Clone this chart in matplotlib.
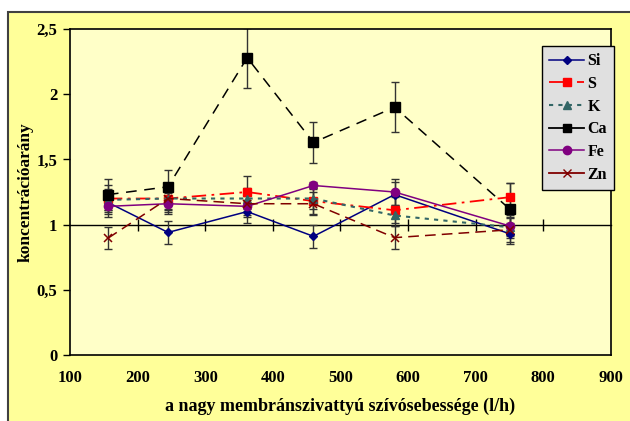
import matplotlib
matplotlib.use("Agg")
import matplotlib.pyplot as plt
from matplotlib.lines import Line2D
from matplotlib.patches import Rectangle
from matplotlib.ticker import FuncFormatter

# ==== adatok ====
flow = [156, 245, 362, 460, 580, 750]

si = [1.17, 0.94, 1.10, 0.91, 1.23, 0.93]
s = [1.20, 1.20, 1.25, 1.18, 1.11, 1.21]
k = [1.19, 1.20, 1.20, 1.20, 1.07, 0.98]
ca = [1.23, 1.29, 2.28, 1.63, 1.90, 1.12]
fe = [1.14, 1.16, 1.14, 1.30, 1.25, 0.99]
zn = [0.895, 1.20, 1.16, 1.16, 0.90, 0.96]

si_err = [0.09, 0.09, 0.09, 0.09, 0.10, 0.08]
s_err = [0.10, 0.10, 0.12, 0.10, 0.10, 0.11]
k_err = [0.08, 0.08, 0.08, 0.08, 0.08, 0.08]
ca_err = [0.12, 0.13, 0.23, 0.16, 0.19, 0.20]
fe_err = [0.08, 0.08, 0.08, 0.03, 0.10, 0.08]
zn_err = [0.085, 0.09, 0.09, 0.09, 0.09, 0.09]

names = ["Si", "S", "K", "Ca", "Fe", "Zn"]

plt.rcParams["font.family"] = ["Liberation Serif", "DejaVu Serif"]
plt.rcParams["font.weight"] = "bold"

fig = plt.figure(figsize=(6.3, 4.21), dpi=100)
fig.patch.set_facecolor("white")

# sárga keret a diagram körül
frame = Rectangle((8 / 630, -0.01), 1.0, 1 - 12 / 421 + 0.01, transform=fig.transFigure,
                  facecolor="#FFFF99", edgecolor="#404040", linewidth=1.5, zorder=-10)
fig.patches.append(frame)

ax = fig.add_axes([70 / 630, 66 / 421, 541 / 630, 326 / 421])
ax.set_facecolor("#FFFFC8")

styles = [
    (si, si_err, dict(color="#000080", ls="-", marker="D", ms=4.5, lw=1.1)),
    (s, s_err, dict(color="#FF0000", ls=(0, (8, 3, 1.5, 3)), marker="s", ms=6, lw=1.3)),
    (k, k_err, dict(color="#336666", ls=(0, (2, 2.5)), marker="^", ms=6, lw=1.5)),
    (ca, ca_err, dict(color="black", ls=(0, (7, 5)), marker="s", ms=6.5, lw=1.1)),
    (fe, fe_err, dict(color="#800080", ls="-", marker="o", ms=6, lw=1.1)),
    (zn, zn_err, dict(color="#800000", ls=(0, (7, 4)), marker="x", ms=6, lw=1.1, mew=1.1)),
]

for vals, errs, st in styles:
    ax.errorbar(flow, vals, yerr=errs, fmt="none", ecolor="#333333", elinewidth=1.0,
                capsize=3, capthick=1.0, zorder=2)
    ax.plot(flow, vals, zorder=3, **st)

ax.set_xlim(100, 900)
ax.set_ylim(0, 2.5)
ax.set_xticks(range(100, 1000, 100))
ax.set_yticks([0, 0.5, 1, 1.5, 2, 2.5])
ax.yaxis.set_major_formatter(FuncFormatter(lambda v, p: f"{v:g}".replace(".", ",")))
ax.tick_params(axis="x", length=0, labelsize=12, pad=11)
ax.tick_params(axis="y", direction="out", length=5, width=1, labelsize=12, pad=4)
for sp in ax.spines.values():
    sp.set_linewidth(1.2)
    sp.set_color("black")

# vízszintes tengely az 1-es értéknél
sec = ax.secondary_xaxis(1 / 2.5)
sec.set_xticks(range(200, 900, 100))
sec.tick_params(direction="inout", length=9, width=1, labelbottom=False, labeltop=False)
sec.spines["bottom"].set_linewidth(1.0)
sec.spines["top"].set_linewidth(1.0)

ax.set_xlabel("a nagy membránszivattyú szívósebessége (l/h)", fontsize=13,
              fontweight="bold", labelpad=8)
ax.set_ylabel("koncentrációarány", fontsize=12.5, fontweight="bold", labelpad=2)

handles = [
    Line2D([], [], color="#000080", ls="-", marker="D", ms=4.5, lw=1.1),
    Line2D([], [], color="#FF0000", ls=(0, (8, 3, 1.5, 3)), marker="s", ms=6, lw=1.3),
    Line2D([], [], color="#336666", ls=(0, (2, 2.5)), marker="^", ms=6, lw=1.5),
    Line2D([], [], color="black", ls="-", marker="s", ms=6, lw=1.3),
    Line2D([], [], color="#800080", ls="-", marker="o", ms=6, lw=1.1),
    Line2D([], [], color="#800000", ls="-", marker="x", ms=6, lw=1.3),
]
leg = fig.legend(handles, names, loc="upper left", bbox_to_anchor=(542 / 630, 1 - 46 / 421),
                 frameon=True, fancybox=False, facecolor="#E0E0E0", edgecolor="black",
                 framealpha=1, labelspacing=0.42, handlelength=2.2,
                 handletextpad=0.2, borderpad=0.45, borderaxespad=0,
                 prop={"weight": "bold", "size": 11.5})
leg.get_frame().set_linewidth(1.0)

fig.savefig("out.png", dpi=100)
